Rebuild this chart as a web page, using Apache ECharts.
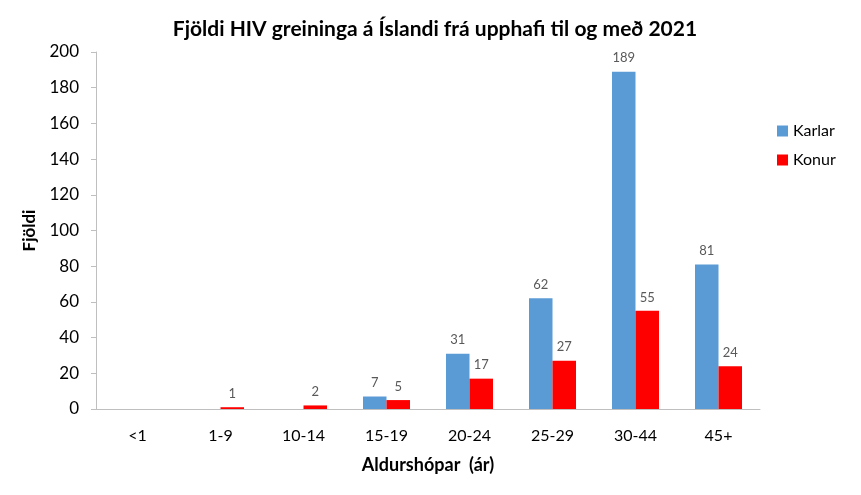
<!DOCTYPE html>
<html><head><meta charset="utf-8">
<script src="https://cdn.jsdelivr.net/npm/echarts@6/dist/echarts.min.js"></script>
<style>html,body{margin:0;padding:0;background:#fff}#c{width:861px;height:495px}</style>
</head><body><div id="c"></div>
<script>
const categories = ['<1','1-9','10-14','15-19','20-24','25-29','30-44','45+'];
const karlar = [0,0,0,7,31,62,189,81];
const konur = [0,1,2,5,17,27,55,24];
const yTicks = [0,20,40,60,80,100,120,140,160,180,200];
const FONT = 'Lato, "Open Sans", sans-serif';
const chart = echarts.init(document.getElementById('c'));
const lbl = {show:true, position:'top', color:'#595959', fontSize:13, fontFamily:FONT, distance:7,
  formatter: p => p.value === 0 ? '' : p.value};
chart.setOption({
  animation:false,
  title:{text:'Fjöldi HIV greininga á Íslandi frá upphafi til og með 2021', left:430, top:14, textAlign:'center',
    textStyle:{fontFamily:FONT, fontSize:21, fontWeight:'bold', color:'#000'}},
  legend:{orient:'vertical', left:772, top:118, itemWidth:11, itemHeight:11, itemGap:13, icon:'rect',
    textStyle:{fontFamily:FONT, fontSize:16, color:'#000'}},
  grid:{left:96, right:101, top:52, bottom:86},
  xAxis:{type:'category', data:categories,
    axisLine:{lineStyle:{color:'#bfbfbf'}}, axisTick:{show:false},
    axisLabel:{fontFamily:FONT, fontSize:16, color:'#000', margin:19},
    name:'Aldurshópar  (ár)', nameLocation:'middle', nameGap:47,
    nameTextStyle:{fontFamily:FONT, fontSize:18, fontWeight:'bold', color:'#000'}},
  yAxis:{type:'value', min:yTicks[0], max:yTicks[yTicks.length-1], interval:20,
    axisLine:{show:true, lineStyle:{color:'#bfbfbf'}},
    axisTick:{show:true, length:5, lineStyle:{color:'#bfbfbf'}},
    splitLine:{show:false},
    axisLabel:{fontFamily:FONT, fontSize:17, color:'#000', margin:17},
    name:'Fjöldi', nameLocation:'middle', nameGap:58, nameRotate:90,
    nameTextStyle:{fontFamily:FONT, fontSize:17, fontWeight:'bold', color:'#000'}},
  series:[
    {name:'Karlar', type:'bar', data:karlar, barWidth:23.5, barGap:'0%', itemStyle:{color:'#5b9bd5'}, label:lbl},
    {name:'Konur', type:'bar', data:konur, barWidth:23.5, itemStyle:{color:'#ff0000'}, label:lbl}
  ]
});
</script></body></html>
